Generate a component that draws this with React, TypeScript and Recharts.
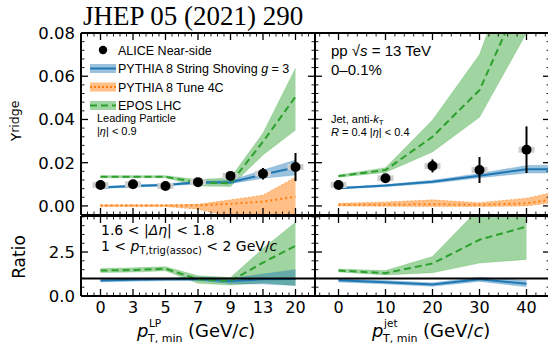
import React from 'react'
import {
  ComposedChart,
  Area,
  Line,
  Scatter,
  ErrorBar,
  XAxis,
  YAxis,
  ReferenceLine,
  Legend,
} from 'recharts'

// leading-particle panel (categorical p_T,min bins)
const lpCategories = ['0', '3', '5', '7', '9', '13', '20']
const aliceLP = [0.0097, 0.01, 0.0092, 0.011, 0.0139, 0.0149, 0.018]
const aliceLPErr = [0.0006, 0.0006, 0.0006, 0.0007, 0.001, 0.0027, 0.0065]
const shoveLP = [0.0085, 0.0092, 0.0097, 0.0108, 0.011, 0.0145, 0.0178]
const shoveLPLo = [0.008, 0.0087, 0.0092, 0.0102, 0.0103, 0.0128, 0.0143]
const shoveLPHi = [0.009, 0.0097, 0.0102, 0.0114, 0.0118, 0.0166, 0.0212]
const tuneLP = [0.0002, 0.0002, 0.0002, 0.0003, 0.001, 0.002, 0.0043]
const tuneLPLo = [-0.0003, -0.0003, -0.0003, -0.0015, -0.005, -0.008, -0.01]
const tuneLPHi = [0.0005, 0.0005, 0.0005, 0.0008, 0.0028, 0.005, 0.0133]
const eposLP = [0.0135, 0.0135, 0.0135, 0.0108, 0.0105, 0.0297, 0.0505]
const eposLPLo = [0.013, 0.013, 0.013, 0.0092, 0.009, 0.0236, 0.0351]
const eposLPHi = [0.014, 0.014, 0.014, 0.0122, 0.013, 0.0337, 0.0637]

const eposRatioLP = [1.45, 1.48, 1.55, 0.95, 0.85, 1.9, 2.85]
const eposRatioLPLo = [1.33, 1.36, 1.43, 0.72, 0.62, 0.75, 0.6]
const eposRatioLPHi = [1.57, 1.6, 1.67, 1.15, 1.05, 2.7, 4.2]
const shoveRatioLP = [0.88, 0.92, 0.95, 0.97, 0.85, 0.95, 0.97]
const shoveRatioLPLo = [0.8, 0.84, 0.87, 0.88, 0.7, 0.68, 0.6]
const shoveRatioLPHi = [0.96, 1.0, 1.03, 1.06, 1.0, 1.25, 1.5]

// jet panel
const jetPtMin = [0, 10, 20, 30, 40]
const jetModelPtMin = [0, 10, 20, 30, 40, 45]
const aliceJet = [0.0097, 0.0128, 0.0185, 0.0166, 0.026]
const aliceJetErr = [0.0005, 0.0008, 0.003, 0.006, 0.0108]
const shoveJet = [0.0082, 0.0094, 0.0112, 0.014, 0.017, 0.017]
const shoveJetLo = [0.0078, 0.0089, 0.0105, 0.013, 0.0152, 0.0152]
const shoveJetHi = [0.0086, 0.0099, 0.0119, 0.015, 0.0187, 0.0188]
const tuneJet = [0.0005, 0.0006, 0.0008, 0.0005, 0.0012, 0.0028]
const tuneJetLo = [0.0, -0.0002, -0.0003, -0.0003, 0.0, 0.0014]
const tuneJetHi = [0.0012, 0.0018, 0.0028, 0.0015, 0.0036, 0.006]
const eposJet = [0.0138, 0.0166, 0.032, 0.0536, 0.102, null]
const eposJetLo = [0.0133, 0.0155, 0.025, 0.041, 0.08, null]
const eposJetHi = [0.0143, 0.0177, 0.0397, 0.07, 0.13, null]

const eposRatioJet = [1.45, 1.3, 1.85, 3.2, 3.95]
const eposRatioJetLo = [1.37, 1.2, 1.32, 1.87, 2.08]
const eposRatioJetHi = [1.53, 1.45, 2.25, 5.0, 5.0]
const shoveRatioJet = [0.9, 0.78, 0.65, 0.95, 0.7]
const shoveRatioJetLo = [0.8, 0.68, 0.55, 0.83, 0.52]
const shoveRatioJetHi = [1.0, 0.88, 0.75, 1.07, 0.88]

// axis ticks
const yieldMajors = [0, 0.02, 0.04, 0.06, 0.08]
const yieldTickLabels = ['0.00', '0.02', '0.04', '0.06', '0.08']
const ratioMajors = [0, 2.5]
const ratioTickLabels = ['0.0', '2.5']
const lpMajors = lpCategories.map((_, i) => i)
const jetMajors = [0, 10, 20, 30, 40]

const legendItems = [
  { key: 'alice', label: 'ALICE Near-side' },
  { key: 'shove', label: 'PYTHIA 8 String Shoving ', italic: 'g', tail: ' = 3' },
  { key: 'tune', label: 'PYTHIA 8 Tune 4C' },
  { key: 'epos', label: 'EPOS LHC' },
]

const BLUE = '#1f77b4'
const ORANGE = '#ff7f0e'
const GREEN = '#2ca02c'
const DEJAVU = "'DejaVu Sans', sans-serif"
const HELV = "'Liberation Sans', Arial, sans-serif"

function steps(start: number, stop: number, step: number) {
  const out: number[] = []
  const n = Math.round((stop - start) / step)
  for (let k = 0; k <= n; k++) out.push(+(start + k * step).toFixed(6))
  return out
}

type Side = 'bottom' | 'top' | 'left' | 'right'

function tickRenderer(side: Side, majors: number[], labels?: string[]) {
  return (props: any) => {
    const { x, y, payload } = props
    const v = payload.value
    const mi = majors.findIndex(m => Math.abs(m - v) < 1e-7)
    const major = mi >= 0
    const len = major ? 7 : 3.5
    let x2 = x
    let y2 = y
    if (side === 'bottom') y2 = y - len
    if (side === 'top') y2 = y + len
    if (side === 'left') x2 = x + len
    if (side === 'right') x2 = x - len
    const label = major && labels ? labels[mi] : null
    return (
      <g>
        <line x1={x} y1={y} x2={x2} y2={y2} stroke="#000" strokeWidth={major ? 1.3 : 0.9} />
        {label !== null && side === 'bottom' && (
          <text x={x} y={y + 17} textAnchor="middle" fontFamily={DEJAVU} fontSize={16} fill="#000">
            {label}
          </text>
        )}
        {label !== null && side === 'left' && (
          <text x={x - 6} y={y + 6} textAnchor="end" fontFamily={DEJAVU} fontSize={16.5} fill="#000">
            {label}
          </text>
        )}
      </g>
    )
  }
}

function SysBox(props: any) {
  const { cx, cy } = props
  if (cx == null || cy == null) return <g />
  return <rect x={cx - 8} y={cy - 3} width={16} height={6} fill="#cfcfcf" />
}

function DataDot(props: any) {
  const { cx, cy } = props
  if (cx == null || cy == null) return <g />
  return <circle cx={cx} cy={cy} r={5} fill="#000" />
}

function LegendBox() {
  return (
    <svg width={230} height={80} style={{ display: 'block' }}>
      {legendItems.map((it, i) => {
        const cy = 10 + i * 18.5
        return (
          <g key={it.key}>
            {it.key === 'alice' && <circle cx={15} cy={cy} r={4.2} fill="#000" />}
            {it.key === 'shove' && (
              <g>
                <rect x={2} y={cy - 4.5} width={26} height={9} fill={BLUE} fillOpacity={0.45} />
                <line x1={2} x2={28} y1={cy} y2={cy} stroke={BLUE} strokeWidth={2} />
              </g>
            )}
            {it.key === 'tune' && (
              <g>
                <rect x={2} y={cy - 4.5} width={26} height={9} fill={ORANGE} fillOpacity={0.5} />
                <line x1={2} x2={28} y1={cy} y2={cy} stroke={ORANGE} strokeWidth={2} strokeDasharray="2 2" />
              </g>
            )}
            {it.key === 'epos' && (
              <g>
                <rect x={2} y={cy - 4.5} width={26} height={9} fill={GREEN} fillOpacity={0.45} />
                <line x1={2} x2={28} y1={cy} y2={cy} stroke={GREEN} strokeWidth={2} strokeDasharray="7 4" />
              </g>
            )}
            <text x={30} y={cy + 4.5} fontFamily={HELV} fontSize={12.5} fill="#000">
              {it.label}
              {it.italic && <tspan fontStyle="italic">{it.italic}</tspan>}
              {it.tail}
            </text>
          </g>
        )
      })}
    </svg>
  )
}

interface AxisSpec {
  domain: [number, number]
  ticks: number[]
  majors: number[]
  labels?: string[]
}

interface PanelProps {
  width: number
  height: number
  margin: { top: number; right: number; bottom: number; left: number }
  data: any[]
  points?: any[]
  x: AxisSpec
  y: AxisSpec
  tune?: boolean
  ratio?: boolean
  legend?: boolean
}

const frame = { stroke: '#000', strokeWidth: 2 }

// every axis is 1px thick so the plot area sits exactly at margin + 1
function Panel({ width, height, margin, data, points, x, y, tune, ratio, legend }: PanelProps) {
  const common = {
    type: 'number' as const,
    interval: 0 as const,
    allowDataOverflow: true,
    tickSize: 0,
    tickMargin: 0,
    tickLine: false,
    axisLine: frame,
  }
  return (
    <ComposedChart width={width} height={height} margin={margin} data={data} style={{ overflow: 'visible' }}>
      <XAxis xAxisId="b" dataKey="x" orientation="bottom" height={1} domain={x.domain} ticks={x.ticks} tick={tickRenderer('bottom', x.majors, x.labels)} {...common} />
      <XAxis xAxisId="t" dataKey="x" orientation="top" height={1} domain={x.domain} ticks={x.ticks} tick={tickRenderer('top', x.majors)} {...common} />
      <YAxis yAxisId="l" orientation="left" width={1} domain={y.domain} ticks={y.ticks} tick={tickRenderer('left', y.majors, y.labels)} {...common} />
      <YAxis yAxisId="r" orientation="right" width={1} domain={y.domain} ticks={y.ticks} tick={tickRenderer('right', y.majors)} {...common} />

      {tune && (
        <Area xAxisId="b" yAxisId="l" type="linear" dataKey="tuneBand" stroke={ORANGE} strokeOpacity={0.5} strokeDasharray="2 2" fill={ORANGE} fillOpacity={0.5} dot={false} activeDot={false} isAnimationActive={false} />
      )}
      <Area xAxisId="b" yAxisId="l" type="linear" dataKey="eposBand" stroke={GREEN} strokeOpacity={0.2} fill={GREEN} fillOpacity={0.45} dot={false} activeDot={false} isAnimationActive={false} />
      <Area xAxisId="b" yAxisId="l" type="linear" dataKey="shoveBand" stroke={BLUE} strokeOpacity={0.2} fill={BLUE} fillOpacity={0.45} dot={false} activeDot={false} isAnimationActive={false} />

      {tune && (
        <Line xAxisId="b" yAxisId="l" type="linear" dataKey="tune" stroke={ORANGE} strokeWidth={2} strokeDasharray="2 3" dot={false} activeDot={false} isAnimationActive={false} />
      )}
      <Line xAxisId="b" yAxisId="l" type="linear" dataKey="shove" stroke={BLUE} strokeWidth={2} dot={false} activeDot={false} isAnimationActive={false} />
      <Line xAxisId="b" yAxisId="l" type="linear" dataKey="epos" stroke={GREEN} strokeWidth={2} strokeDasharray="7 4" dot={false} activeDot={false} isAnimationActive={false} />

      {ratio && <ReferenceLine xAxisId="b" yAxisId="l" y={1} stroke="#000" strokeWidth={2} />}

      {points && (
        <Scatter xAxisId="b" yAxisId="l" data={points} dataKey="y" shape={SysBox} isAnimationActive={false} />
      )}
      {points && (
        <Scatter xAxisId="b" yAxisId="l" data={points} dataKey="y" shape={DataDot} isAnimationActive={false}>
          <ErrorBar dataKey="err" direction="y" width={0} stroke="#000" strokeWidth={2} />
        </Scatter>
      )}

      {legend && (
        <Legend
          layout="vertical"
          align="center"
          verticalAlign="middle"
          wrapperStyle={{ position: 'absolute', left: 88, top: 40, width: 230, height: 80 }}
          content={() => <LegendBox />}
        />
      )}
    </ComposedChart>
  )
}

const lpTopData = lpCategories.map((_, i) => ({
  x: i,
  shove: shoveLP[i],
  shoveBand: [shoveLPLo[i], shoveLPHi[i]],
  tune: tuneLP[i],
  tuneBand: [tuneLPLo[i], tuneLPHi[i]],
  epos: eposLP[i],
  eposBand: [eposLPLo[i], eposLPHi[i]],
}))
const lpPoints = lpCategories.map((_, i) => ({ x: i, y: aliceLP[i], err: aliceLPErr[i] }))
const lpRatioData = lpCategories.map((_, i) => ({
  x: i,
  shove: shoveRatioLP[i],
  shoveBand: [shoveRatioLPLo[i], shoveRatioLPHi[i]],
  epos: eposRatioLP[i],
  eposBand: [eposRatioLPLo[i], eposRatioLPHi[i]],
}))

const jetTopData = jetModelPtMin.map((pt, i) => ({
  x: pt,
  shove: shoveJet[i],
  shoveBand: [shoveJetLo[i], shoveJetHi[i]],
  tune: tuneJet[i],
  tuneBand: [tuneJetLo[i], tuneJetHi[i]],
  epos: eposJet[i],
  eposBand: eposJetLo[i] == null ? null : [eposJetLo[i], eposJetHi[i]],
}))
const jetPoints = jetPtMin.map((pt, i) => ({ x: pt, y: aliceJet[i], err: aliceJetErr[i] }))
const jetRatioData = jetPtMin.map((pt, i) => ({
  x: pt,
  shove: shoveRatioJet[i],
  shoveBand: [shoveRatioJetLo[i], shoveRatioJetHi[i]],
  epos: eposRatioJet[i],
  eposBand: [eposRatioJetLo[i], eposRatioJetHi[i]],
}))

const lpX: AxisSpec = { domain: [-0.6, 6.6], ticks: steps(-0.6, 6.6, 0.2), majors: lpMajors, labels: lpCategories }
const jetX: AxisSpec = { domain: [-5, 45], ticks: steps(-4, 44, 2), majors: jetMajors, labels: jetMajors.map(String) }
const yieldY: AxisSpec = { domain: [-0.0042, 0.08], ticks: steps(-0.004, 0.08, 0.004), majors: yieldMajors, labels: yieldTickLabels }
const ratioY: AxisSpec = { domain: [0, 4.55], ticks: steps(0, 4.5, 0.5), majors: ratioMajors, labels: ratioTickLabels }

const abs = (left: number, top: number): React.CSSProperties => ({ position: 'absolute', left, top })

export default function App() {
  return (
    <div style={{ position: 'absolute', left: 0, top: 0, width: 548, height: 349, background: '#fff', overflow: 'hidden' }}>
      <div style={abs(0, 0)}>
        <Panel width={316} height={216} margin={{ top: 32, left: 80, right: 0, bottom: 0 }} data={lpTopData} points={lpPoints} x={{ ...lpX, labels: undefined }} y={yieldY} tune legend />
      </div>
      <div style={abs(314, 0)}>
        <Panel width={237} height={216} margin={{ top: 32, left: 0, right: 0, bottom: 0 }} data={jetTopData} points={jetPoints} x={{ ...jetX, labels: undefined }} y={{ ...yieldY, labels: undefined }} tune />
      </div>
      <div style={abs(0, 215)}>
        <Panel width={316} height={134} margin={{ top: 0, left: 80, right: 0, bottom: 52 }} data={lpRatioData} x={lpX} y={ratioY} ratio />
      </div>
      <div style={abs(314, 215)}>
        <Panel width={237} height={134} margin={{ top: 0, left: 0, right: 0, bottom: 52 }} data={jetRatioData} x={jetX} y={{ ...ratioY, labels: undefined }} ratio />
      </div>

      <svg width={548} height={349} style={{ position: 'absolute', left: 0, top: 0, pointerEvents: 'none' }}>
        <text x={83} y={25} fontFamily="'Liberation Serif', serif" fontSize={27} fill="#000">
          JHEP 05 (2021) 290
        </text>

        <text transform="translate(21,121) rotate(-90)" textAnchor="middle" fontFamily={DEJAVU} fontSize={14} fill="#000">
          Y<tspan fontSize={12.5} dy={-2}>ridge</tspan>
        </text>
        <text transform="translate(25,257) rotate(-90)" textAnchor="middle" fontFamily={DEJAVU} fontSize={17} fill="#000">
          Ratio
        </text>

        <g fontFamily={DEJAVU} fill="#000">
          <text x={137} y={337} fontSize={18} fontStyle="italic">p</text>
          <text x={149} y={327} fontSize={10.5}>LP</text>
          <text x={148} y={342} fontSize={11}>T, min</text>
          <text x={188} y={337} fontSize={18}>
            (GeV/<tspan fontStyle="italic">c</tspan>)
          </text>

          <text x={372} y={337} fontSize={18} fontStyle="italic">p</text>
          <text x={384} y={327} fontSize={10.5}>jet</text>
          <text x={383} y={342} fontSize={11}>T, min</text>
          <text x={423} y={337} fontSize={18}>
            (GeV/<tspan fontStyle="italic">c</tspan>)
          </text>
        </g>

        <g fontFamily={HELV} fill="#000">
          <text x={97} y={122} fontSize={11}>Leading Particle</text>
          <text x={97} y={135} fontSize={11}>
            |<tspan fontStyle="italic">η</tspan>| &lt; 0.9
          </text>

          <text x={331} y={56} fontSize={15}>
            pp √<tspan fontStyle="italic">s</tspan> = 13 TeV
          </text>
          <text x={331} y={75} fontSize={15}>0–0.1%</text>

          <text x={331} y={123} fontSize={11}>
            Jet, anti-<tspan fontStyle="italic">k</tspan>
            <tspan fontSize={8} dy={2}>T</tspan>
          </text>
          <text x={331} y={136} fontSize={11}>
            <tspan fontStyle="italic">R</tspan> = 0.4 |<tspan fontStyle="italic">η</tspan>| &lt; 0.4
          </text>
        </g>

        <g fontFamily={DEJAVU} fill="#000">
          <text x={101} y={235} fontSize={14}>
            1.6 &lt; |<tspan fontStyle="italic">Δη</tspan>| &lt; 1.8
          </text>
          <text x={101} y={251} fontSize={14}>
            1 &lt; <tspan fontStyle="italic">p</tspan>
            <tspan fontSize={10} dy={3}>T,trig(assoc)</tspan>
            <tspan dy={-3}> &lt; 2 GeV/</tspan>
            <tspan fontStyle="italic">c</tspan>
          </text>
        </g>
      </svg>
    </div>
  )
}
